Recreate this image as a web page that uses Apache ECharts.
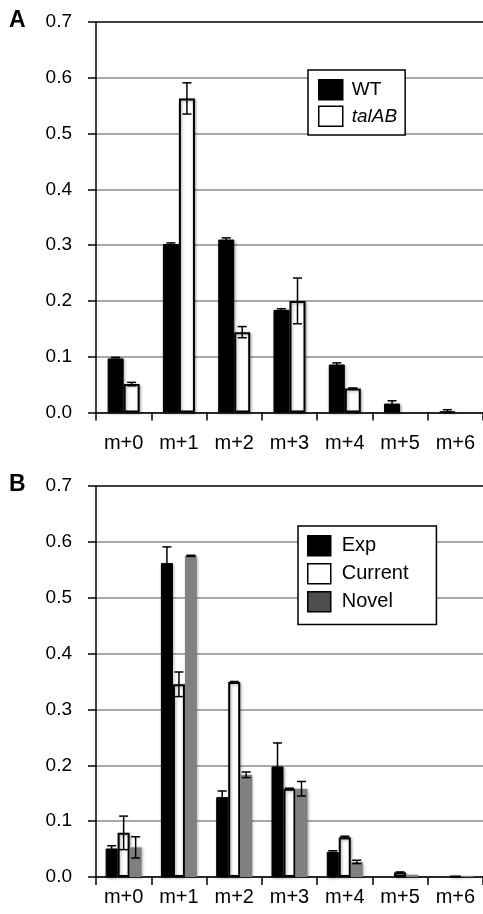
<!DOCTYPE html>
<html>
<head>
<meta charset="utf-8">
<script src="https://cdn.jsdelivr.net/npm/echarts@6/dist/echarts.min.js"></script>
<style>
html,body{margin:0;padding:0;background:#fff;}
#c{width:483px;height:914px;}
</style>
</head>
<body>
<div id="c"></div>
<script>
// ---------- data ----------
var categories = ['m+0', 'm+1', 'm+2', 'm+3', 'm+4', 'm+5', 'm+6'];
var yTickLabels = ['0.0', '0.1', '0.2', '0.3', '0.4', '0.5', '0.6', '0.7'];

// Panel A
var wtValues  = [0.097, 0.302, 0.310, 0.184, 0.086, 0.016, 0.002];
var wtErrors  = [0.002, 0.002, 0.003, 0.002, 0.003, 0.005, 0.003];
var talValues = [0.051, 0.563, 0.144, 0.200, 0.043, 0.000, 0.000];
var talErrors = [0.003, 0.028, 0.010, 0.041, 0.001, 0.000, 0.000];

// Panel B
var expValues = [0.051, 0.562, 0.143, 0.198, 0.045, 0.000, 0.000];
var expErrors = [0.005, 0.029, 0.011, 0.042, 0.002, 0.000, 0.000];
var curValues = [0.079, 0.345, 0.349, 0.158, 0.071, 0.008, 0.002];
var curErrors = [0.030, 0.022, 0.001, 0.001, 0.002, 0.001, 0.000];
var novValues = [0.053, 0.575, 0.183, 0.158, 0.027, 0.004, 0.002];
var novErrors = [0.019, 0.001, 0.005, 0.013, 0.003, 0.000, 0.000];

// ---------- helpers ----------
var FONT = '"Liberation Sans", Arial, Helvetica, sans-serif';

function barData(vals) {
  return vals.map(function (v) { return v === 0 ? '-' : v; });
}
function errData(vals, errs) {
  return vals.map(function (v, i) { return [i, v, errs[i]]; });
}

function errSeries(name, vals, errs, offset, axisIdx) {
  return {
    type: 'custom',
    name: name,
    xAxisIndex: axisIdx,
    yAxisIndex: axisIdx,
    z: 5,
    silent: true,
    data: errData(vals, errs),
    encode: { x: 0, y: 1 },
    renderItem: function (params, api) {
      var idx = api.value(0), v = api.value(1), e = api.value(2);
      if (!e) return null;
      var top = api.coord([idx, v + e]);
      var bot = api.coord([idx, Math.max(0, v - e)]);
      var x = top[0] + offset;
      var cap = 4.5;
      var st = { stroke: '#000', lineWidth: 1.5 };
      return {
        type: 'group',
        children: [
          { type: 'line', shape: { x1: x, y1: top[1], x2: x, y2: bot[1] }, style: st },
          { type: 'line', shape: { x1: x - cap, y1: top[1], x2: x + cap, y2: top[1] }, style: st },
          { type: 'line', shape: { x1: x - cap, y1: bot[1], x2: x + cap, y2: bot[1] }, style: st }
        ]
      };
    }
  };
}

var shadow = { shadowBlur: 3, shadowColor: 'rgba(0,0,0,0.35)', shadowOffsetX: 1, shadowOffsetY: 1 };
function style(base) { var o = {}; for (var k in shadow) o[k] = shadow[k]; for (var k2 in base) o[k2] = base[k2]; return o; }

var gridColors = ['#8c8c8c', '#8c8c8c', '#8c8c8c', '#8c8c8c', '#8c8c8c', '#8c8c8c', '#8c8c8c', '#000'];

function yAxis(gi) {
  return {
    type: 'value', gridIndex: gi, min: 0, max: 0.7, interval: 0.1,
    axisLine: { show: true, lineStyle: { color: '#000', width: 1.5 } },
    axisTick: { show: true, length: 8, lineStyle: { color: '#000', width: 1.5 } },
    axisLabel: {
      color: '#000', fontSize: 19, fontFamily: FONT, margin: 24,
      formatter: function (v) { return yTickLabels[Math.round(v * 10)]; }
    },
    splitLine: { show: true, lineStyle: { color: gridColors, width: 1.5 } }
  };
}
function xAxis(gi, margin) {
  return {
    type: 'category', gridIndex: gi, data: categories, boundaryGap: true,
    axisLine: { show: true, lineStyle: { color: '#000', width: 1.5 } },
    axisTick: { show: true, length: 8, alignWithLabel: false, interval: 0, lineStyle: { color: '#000', width: 1.5 } },
    axisLabel: { color: '#000', fontSize: 20, fontFamily: FONT, margin: margin, interval: 0 },
    splitLine: { show: false }
  };
}

var chart = echarts.init(document.getElementById('c'), null, { renderer: 'canvas' });

var option = {
  backgroundColor: '#fff',
  animation: false,
  textStyle: { fontFamily: FONT },
  grid: [
    { left: 96, top: 22, width: 387, height: 390.5, containLabel: false },
    { left: 96, top: 486, width: 387, height: 391, containLabel: false }
  ],
  title: [
    { text: 'A', left: 9, top: 9, padding: 0, textStyle: { fontSize: 23, fontWeight: 'bold', color: '#000', fontFamily: FONT } },
    { text: 'B', left: 9, top: 473, padding: 0, textStyle: { fontSize: 23, fontWeight: 'bold', color: '#000', fontFamily: FONT } }
  ],
  legend: [
    {
      orient: 'vertical', left: 308, top: 70,
      padding: [9, 8, 8, 10], itemGap: 5, itemWidth: 24, itemHeight: 20,
      backgroundColor: '#fff', borderColor: '#000', borderWidth: 1.5, borderRadius: 0,
      icon: 'rect', selectedMode: false,
      textStyle: { fontSize: 19, color: '#000', fontFamily: FONT, lineHeight: 20, padding: [0, 0, 0, 4] },
      data: [
        { name: 'WT', itemStyle: { color: '#000', borderColor: '#000', borderWidth: 1.5, shadowBlur: 0 } },
        { name: 'talAB', textStyle: { fontStyle: 'italic' }, itemStyle: { color: '#fff', borderColor: '#000', borderWidth: 1.5, shadowBlur: 0 } }
      ]
    },
    {
      orient: 'vertical', left: 298, top: 526,
      padding: [9, 28, 12, 9], itemGap: 6.5, itemWidth: 23, itemHeight: 20,
      backgroundColor: '#fff', borderColor: '#000', borderWidth: 1.5, borderRadius: 0,
      icon: 'rect', selectedMode: false,
      textStyle: { fontSize: 20, color: '#000', fontFamily: FONT, lineHeight: 20, padding: [0, 0, 0, 6] },
      data: [
        { name: 'Exp', itemStyle: { color: '#000', borderColor: '#000', borderWidth: 1.5, shadowBlur: 0 } },
        { name: 'Current', itemStyle: { color: '#fff', borderColor: '#000', borderWidth: 1.5, shadowBlur: 0 } },
        { name: 'Novel', itemStyle: { color: '#4d4d4d', borderColor: '#000', borderWidth: 1.5, shadowBlur: 0 } }
      ]
    }
  ],
  xAxis: [xAxis(0, 21), xAxis(1, 10)],
  yAxis: [yAxis(0), yAxis(1)],
  series: [
    { type: 'bar', name: 'WT', xAxisIndex: 0, yAxisIndex: 0, data: barData(wtValues), barWidth: 16, barGap: '0%',
      itemStyle: style({ color: '#000', borderColor: '#000', borderWidth: 1 }) },
    { type: 'bar', name: 'talAB', xAxisIndex: 0, yAxisIndex: 0, data: barData(talValues), barWidth: 16, barGap: '0%',
      itemStyle: style({ color: '#fff', borderColor: '#000', borderWidth: 2 }) },
    errSeries('WT err', wtValues, wtErrors, -8, 0),
    errSeries('talAB err', talValues, talErrors, 8, 0),

    { type: 'bar', name: 'Exp', xAxisIndex: 1, yAxisIndex: 1, data: barData(expValues), barWidth: 12, barGap: '0%',
      itemStyle: style({ color: '#000', borderColor: '#000', borderWidth: 1 }) },
    { type: 'bar', name: 'Current', xAxisIndex: 1, yAxisIndex: 1, data: barData(curValues), barWidth: 12, barGap: '0%',
      itemStyle: style({ color: '#fff', borderColor: '#000', borderWidth: 2 }) },
    { type: 'bar', name: 'Novel', xAxisIndex: 1, yAxisIndex: 1, data: barData(novValues), barWidth: 12, barGap: '0%',
      itemStyle: style({ color: '#808080' }) },
    errSeries('Exp err', expValues, expErrors, -12, 1),
    errSeries('Current err', curValues, curErrors, 0, 1),
    errSeries('Novel err', novValues, novErrors, 12, 1)
  ]
};
chart.setOption(option);
</script>
</body>
</html>
